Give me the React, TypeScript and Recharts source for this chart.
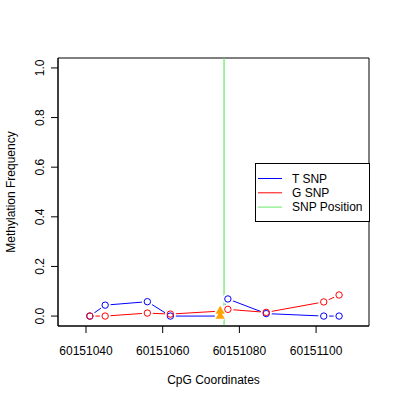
import React from 'react';
import { ComposedChart, Line, XAxis, YAxis, ReferenceLine, ReferenceArea } from 'recharts';

const FONT = '"Liberation Sans", Arial, Helvetica, sans-serif';

// CpG coordinates (x) and methylation frequencies per series
const positions = [60151041, 60151045, 60151056, 60151062, 60151075, 60151077, 60151087, 60151102, 60151106];
const tSnpValues = [0, 0.044, 0.058, 0, 0, 0.069, 0.01, 0, 0];
const gSnpValues = [0, 0, 0.012, 0.008, 0.02, 0.027, 0.015, 0.057, 0.085];

// CpG drawn with a triangle marker, and the SNP position line
const markerPosition = 60151075;
const snpPosition = 60151076;

const xTicks = [60151040, 60151060, 60151080, 60151100];
const yTicks = [0, 0.2, 0.4, 0.6, 0.8, 1.0];
const xDomain = [60151032.7, 60151113.8];
const yDomain = [-0.04, 1.04];

const legendItems = ['T SNP', 'G SNP', 'SNP Position'];

const BLUE = '#0000FF';
const RED = '#FF0000';
const GREEN = '#66E866';
const ORANGE = '#FFA500';

const chartData = positions.map((p, i) => ({ pos: p, t: tSnpValues[i], g: gSnpValues[i] }));

const haloDot = (props: any) => {
  const { cx, cy, index } = props;
  if (cx == null || cy == null) return <g key={`h-${index}`} />;
  return <circle key={`h-${index}`} cx={cx} cy={cy} r={5.5} fill="#ffffff" stroke="none" />;
};

const makeMarkerDot = (color: string) => (props: any) => {
  const { cx, cy, index, payload } = props;
  if (cx == null || cy == null) return <g key={`m-${index}`} />;
  if (payload && payload.pos === markerPosition) {
    const s = 3.4;
    const pts = `${cx},${cy - 1.555 * s} ${cx + 1.347 * s},${cy + 0.778 * s} ${cx - 1.347 * s},${cy + 0.778 * s}`;
    return <polygon key={`m-${index}`} points={pts} fill={ORANGE} stroke="none" />;
  }
  return <circle key={`m-${index}`} cx={cx} cy={cy} r={3.2} fill="none" stroke={color} strokeWidth={1} />;
};

const YTick = (props: any) => {
  const { x, y, payload } = props;
  return (
    <text x={x} y={y} transform={`rotate(-90 ${x} ${y})`} textAnchor="middle" fontSize={12} fontFamily={FONT} fill="#000">
      {Number(payload.value).toFixed(1)}
    </text>
  );
};

const YTitle = (props: any) => {
  const vb = props.viewBox || { x: 0, y: 58, width: 58, height: 268 };
  const cx = vb.x + 15;
  const cy = vb.y + vb.height / 2;
  return (
    <text x={cx} y={cy} transform={`rotate(-90 ${cx} ${cy})`} textAnchor="middle" fontSize={12} fontFamily={FONT} fill="#000">
      Methylation Frequency
    </text>
  );
};

const XTitle = (props: any) => {
  const vb = props.viewBox || { x: 58, y: 326, width: 311, height: 74 };
  return (
    <text x={vb.x + vb.width / 2} y={vb.y + 58} textAnchor="middle" fontSize={12} fontFamily={FONT} fill="#000">
      CpG Coordinates
    </text>
  );
};

const legendColors = [BLUE, RED, GREEN];

const LegendBox = () => (
  <div
    style={{
      position: 'absolute',
      left: 255,
      top: 163,
      width: 115,
      height: 59,
      boxSizing: 'border-box',
      border: '1px solid #000',
      background: '#fff',
    }}
  >
    <svg width={113} height={57} style={{ display: 'block' }}>
      {legendItems.map((label, i) => {
        const y = 14.5 + i * 14.3;
        return (
          <g key={label}>
            <line x1={2} x2={26} y1={y} y2={y} stroke={legendColors[i]} strokeWidth={1} />
            <text x={36} y={y + 4.3} fontSize={12} fontFamily={FONT} fill="#000">
              {label}
            </text>
          </g>
        );
      })}
    </svg>
  </div>
);

export default function App() {
  return (
    <div style={{ position: 'absolute', left: 0, top: 0, width: 400, height: 400, background: '#fff' }}>
      <ComposedChart width={400} height={400} data={chartData} margin={{ top: 58, right: 31, bottom: 0, left: 0 }}>
        <XAxis
          dataKey="pos"
          type="number"
          domain={xDomain}
          ticks={xTicks}
          interval={0}
          allowDataOverflow
          height={74}
          tickSize={7}
          tickMargin={13}
          stroke="#000"
          tick={{ fill: '#000', fontSize: 12, fontFamily: FONT }}
          label={<XTitle />}
        />
        <YAxis
          type="number"
          domain={yDomain}
          ticks={yTicks}
          interval={0}
          allowDataOverflow
          width={58}
          tickSize={7}
          tickMargin={7}
          stroke="#000"
          tick={<YTick />}
          label={<YTitle />}
        />
        <ReferenceArea
          x1={xDomain[0]}
          x2={xDomain[1]}
          y1={yDomain[0]}
          y2={yDomain[1]}
          fill="none"
          fillOpacity={0}
          stroke="#000"
          strokeWidth={1}
          ifOverflow="visible"
        />
        <Line dataKey="t" stroke={BLUE} strokeWidth={1} dot={haloDot} activeDot={false} isAnimationActive={false} legendType="none" />
        <Line dataKey="g" stroke={RED} strokeWidth={1} dot={haloDot} activeDot={false} isAnimationActive={false} legendType="none" />
        <Line dataKey="t" stroke="none" dot={makeMarkerDot(BLUE)} activeDot={false} isAnimationActive={false} legendType="none" />
        <Line dataKey="g" stroke="none" dot={makeMarkerDot(RED)} activeDot={false} isAnimationActive={false} legendType="none" />
        <ReferenceLine x={snpPosition} stroke={GREEN} strokeWidth={1.2} ifOverflow="visible" />
      </ComposedChart>
      <LegendBox />
    </div>
  );
}
